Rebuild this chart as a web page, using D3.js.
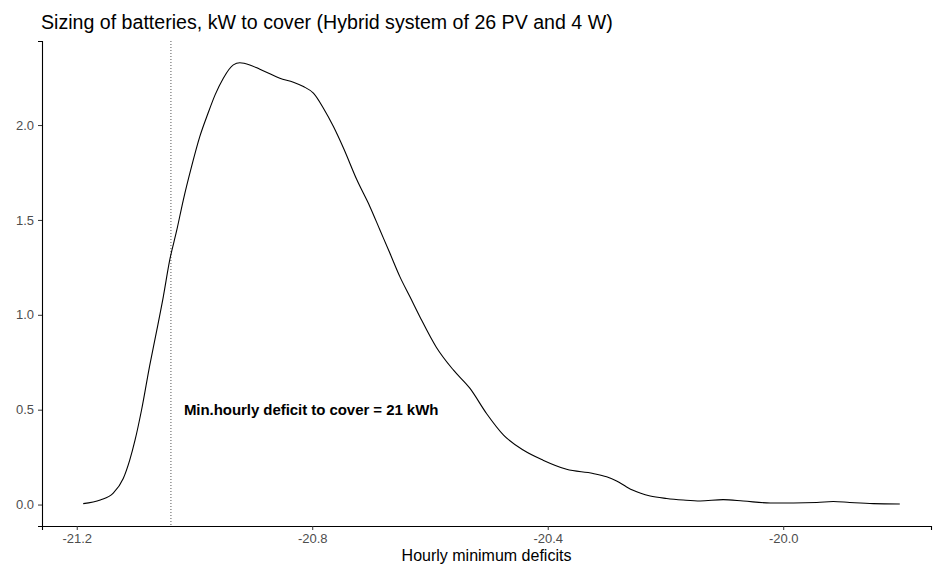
<!DOCTYPE html>
<html>
<head>
<meta charset="utf-8">
<script src="https://cdn.jsdelivr.net/npm/d3@7"></script>
<style>
  body { margin: 0; background: #fff; }
  svg { display: block; font-family: "Liberation Sans", Arial, sans-serif; }
</style>
</head>
<body>
<svg id="chart"></svg>
<script>
// ======================
// DATA
// ======================

const densityX = [
    -21.189, -21.160, -21.138, -21.121, -21.110, -21.101, -21.090, -21.076,
    -21.064, -21.053, -21.042, -21.030, -21.019, -21.005, -20.991, -20.977,
    -20.965, -20.951, -20.934, -20.923, -20.906, -20.889, -20.872, -20.855,
    -20.832, -20.815, -20.798, -20.781, -20.764, -20.747, -20.724, -20.702,
    -20.685, -20.668, -20.651, -20.634, -20.617, -20.589, -20.560, -20.532,
    -20.504, -20.475, -20.441, -20.408, -20.368, -20.323, -20.300, -20.283,
    -20.266, -20.255, -20.226, -20.198, -20.170, -20.141, -20.102, -20.068,
    -20.022, -19.943, -19.915, -19.887, -19.847, -19.802
];

const densityY = [
    0.005, 0.024, 0.060, 0.137, 0.234, 0.339, 0.497, 0.734,
    0.919, 1.095, 1.289, 1.447, 1.605, 1.781, 1.939, 2.062,
    2.159, 2.247, 2.317, 2.328, 2.317, 2.294, 2.270, 2.247,
    2.226, 2.203, 2.168, 2.089, 1.992, 1.879, 1.710, 1.570,
    1.447, 1.324, 1.200, 1.095, 0.989, 0.828, 0.708, 0.612,
    0.480, 0.366, 0.286, 0.234, 0.186, 0.164, 0.146, 0.124,
    0.093, 0.075, 0.045, 0.032, 0.024, 0.019, 0.026, 0.019,
    0.008, 0.011, 0.016, 0.011, 0.005, 0.003
];

const xTicks = [-21.2, -20.8, -20.4, -20.0];
const yTicks = [0.0, 0.5, 1.0, 1.5, 2.0];

const minDeficit = -21.04;
const noteLabel = "Min.hourly deficit to cover = 21 kWh";
const noteX = -21.018;
const noteY = 0.5;

const titleText = "Sizing of batteries, kW to cover (Hybrid system of 26 PV and 4 W)";
const xTitle = "Hourly minimum deficits";

// ======================
// SETUP
// ======================

const width = 934;
const height = 568;
const margin = { top: 41, right: 3, bottom: 42, left: 42 };
const innerWidth = width - margin.left - margin.right;
const innerHeight = height - margin.top - margin.bottom;

const svg = d3.select("#chart")
    .attr("width", width)
    .attr("height", height);

const g = svg.append("g")
    .attr("transform", `translate(${margin.left},${margin.top})`);

const x = d3.scaleLinear()
    .domain([-21.259, -19.749])
    .range([0, innerWidth]);

const y = d3.scaleLinear()
    .domain([-0.113, 2.443])
    .range([innerHeight, 0]);

// ======================
// AXES
// ======================

const fmt = d => d.toFixed(1);

const xAxisG = g.append("g")
    .attr("transform", `translate(0,${innerHeight})`)
    .call(d3.axisBottom(x).tickValues(xTicks).tickFormat(fmt).tickSizeOuter(0).tickSize(4).tickPadding(4));

const yAxisG = g.append("g")
    .call(d3.axisLeft(y).tickValues(yTicks).tickFormat(fmt).tickSizeOuter(0).tickSize(4).tickPadding(4));

[xAxisG, yAxisG].forEach(ax => {
    ax.attr("font-size", 13)
        .attr("font-family", "'Liberation Sans', Arial, sans-serif");
    ax.select(".domain").attr("stroke", "#000").attr("stroke-width", 1.1);
    ax.selectAll(".tick line").attr("stroke", "#333");
    ax.selectAll(".tick text").attr("fill", "#4d4d4d");
});

// ======================
// MARKS
// ======================

const series = densityX.map((v, i) => ({ x: v, y: densityY[i] }));

const line = d3.line()
    .x(d => x(d.x))
    .y(d => y(d.y))
    .curve(d3.curveMonotoneX);

g.append("line")
    .attr("x1", x(minDeficit))
    .attr("x2", x(minDeficit))
    .attr("y1", 0)
    .attr("y2", innerHeight)
    .attr("stroke", "#555")
    .attr("stroke-width", 1)
    .attr("stroke-dasharray", "1,2");

g.append("path")
    .datum(series)
    .attr("fill", "none")
    .attr("stroke", "#000")
    .attr("stroke-width", 1.1)
    .attr("d", line);

g.append("text")
    .attr("x", x(noteX))
    .attr("y", y(noteY))
    .attr("dy", "0.35em")
    .attr("fill", "#000")
    .attr("font-size", 15)
    .attr("font-weight", "bold")
    .style("letter-spacing", "-0.05px")
    .text(noteLabel);

// ======================
// TITLES
// ======================

svg.append("text")
    .attr("x", 41)
    .attr("y", 29)
    .attr("fill", "#000")
    .attr("font-size", 19.6)
    .text(titleText);

svg.append("text")
    .attr("x", margin.left + innerWidth / 2)
    .attr("y", 561)
    .attr("text-anchor", "middle")
    .attr("fill", "#000")
    .attr("font-size", 16)
    .text(xTitle);
</script>
</body>
</html>
